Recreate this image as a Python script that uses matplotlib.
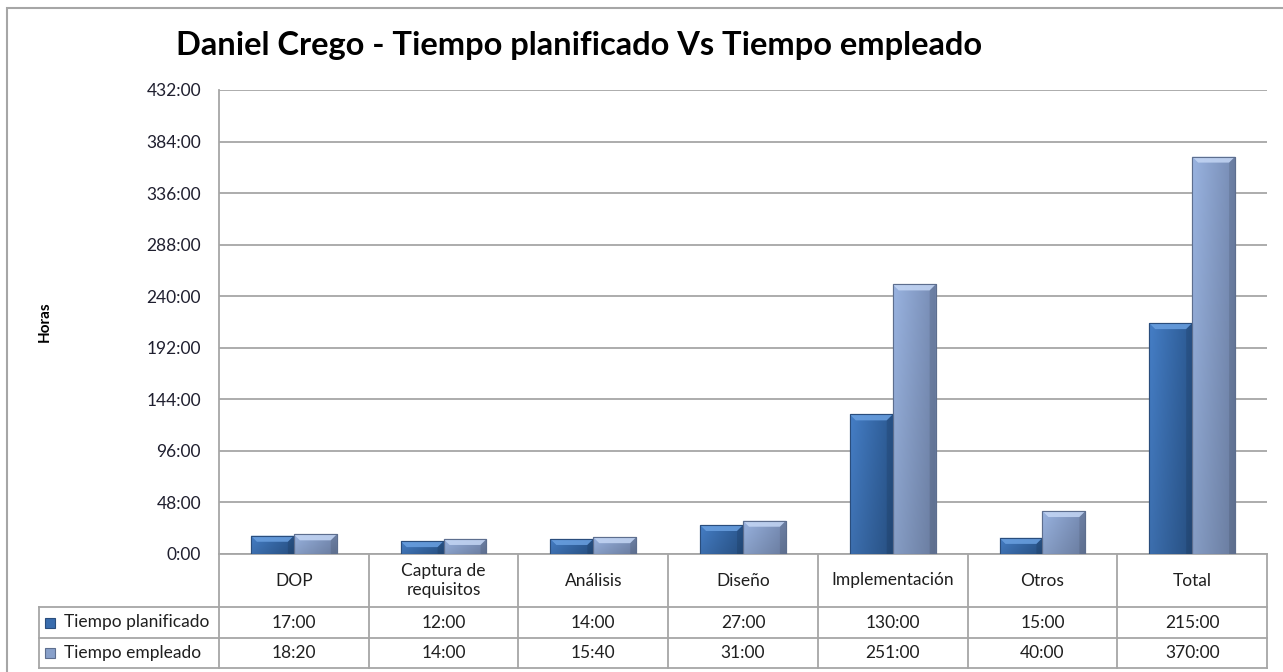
import numpy as np
import matplotlib.pyplot as plt
from matplotlib.patches import Rectangle, Polygon
from matplotlib.lines import Line2D
from matplotlib.transforms import blended_transform_factory

plt.rcParams['font.family'] = ['Lato', 'DejaVu Sans']

categorias = ['DOP', 'Captura de\nrequisitos', 'Análisis', 'Diseño',
              'Implementación', 'Otros', 'Total']
series = ['Tiempo planificado', 'Tiempo empleado']
planificado = ['17:00', '12:00', '14:00', '27:00', '130:00', '15:00', '215:00']
empleado = ['18:20', '14:00', '15:40', '31:00', '251:00', '40:00', '370:00']
ticks_y = np.arange(0, 433, 48)


def horas(s):
    h, m = s.split(':')
    return int(h) + int(m) / 60


W, H = 1283, 672
fig = plt.figure(figsize=(W / 100, H / 100), dpi=100)


def fy(py):
    return 1 - py / H


ax = fig.add_axes([219 / W, fy(554), (1267 - 219) / W, (554 - 90) / H])

# colores: (izquierda, derecha, bisel superior, borde)
estilos = [
    (np.array([0x45, 0x7e, 0xc6]) / 255, np.array([0x2c, 0x5a, 0x93]) / 255, '#6aa0e0', '#2a4d7c'),
    (np.array([0x99, 0xb3, 0xe0]) / 255, np.array([0x77, 0x8c, 0xb4]) / 255, '#c4d6f4', '#5d6e8e'),
]

x = np.arange(len(categorias))
w = 43 / 150
grid_h = (554 - 90) / 432  # px por hora
for k, datos in enumerate([planificado, empleado]):
    vals = [horas(v) for v in datos]
    izq, der, bisel, borde = estilos[k]
    bars = ax.bar(x + (k - 0.5) * w, vals, width=w, color=der, edgecolor=borde,
                  linewidth=0.8, zorder=3)
    for b in bars:
        x0, bw, bh = b.get_x(), b.get_width(), b.get_height()
        u = np.linspace(0, 1, 40)[None, :, None]
        v = np.linspace(1, 0, 60)[:, None, None]
        img = izq * (1 - u) + der * u
        img = img * (0.88 + 0.12 * v)
        im = ax.imshow(np.clip(img, 0, 1), extent=[x0, x0 + bw, 0, bh],
                       aspect='auto', zorder=3.1, interpolation='bilinear')
        im.set_clip_path(b)
        by = 6 / grid_h
        bx = 6 / 150
        ax.add_patch(Polygon([(x0, bh), (x0 + bw, bh), (x0 + bw - bx, bh - by),
                              (x0 + bx, bh - by)], closed=True, facecolor=bisel,
                             edgecolor='none', alpha=0.85, zorder=3.2))
        ax.add_patch(Polygon([(x0 + bw, 0), (x0 + bw, bh), (x0 + bw - bx, bh - by),
                              (x0 + bw - bx, 0)], closed=True, facecolor='black',
                             edgecolor='none', alpha=0.10, zorder=3.2))
        ax.add_patch(Rectangle((x0, 0), bw, bh, facecolor='none', edgecolor=borde,
                               linewidth=0.8, zorder=3.3))

ax.set_xlim(-0.5, len(categorias) - 0.5)
ax.set_ylim(0, 432)
ax.set_yticks(ticks_y)
ax.set_yticklabels([f'{t}:00' for t in ticks_y], fontsize=12.5, color='#1f1f2f')
ax.tick_params(axis='y', length=0, pad=13)
ax.set_xticks([])
ax.yaxis.grid(True, color='#a6a6a6', linewidth=1.3)
ax.set_axisbelow(True)
for s in ['top', 'right']:
    ax.spines[s].set_visible(False)
for s in ['left', 'bottom']:
    ax.spines[s].set_color('#a6a6a6')
    ax.spines[s].set_linewidth(1.3)

# tabla de datos bajo el eje
tr = blended_transform_factory(ax.transData, fig.transFigure)
gris = '#a6a6a6'
x_leg = -0.5 - (219 - 39) / 150
x_fin = len(categorias) - 0.5
for xb in np.arange(-0.5, x_fin + 0.01, 1):
    ax.add_line(Line2D([xb, xb], [fy(554), fy(668)], transform=tr, color=gris,
                       lw=1.3, clip_on=False))
for py in [607, 638, 668]:
    ax.add_line(Line2D([x_leg, x_fin], [fy(py), fy(py)], transform=tr, color=gris,
                       lw=1.3, clip_on=False))
ax.add_line(Line2D([x_leg, x_leg], [fy(607), fy(668)], transform=tr, color=gris,
                   lw=1.3, clip_on=False))

for i, c in enumerate(categorias):
    ax.text(i, fy(580.5), c, transform=tr, ha='center', va='center', fontsize=12.5,
            color='#1f1f1f', linespacing=1.2)
for k, (nombre, datos, py) in enumerate(zip(series, [planificado, empleado], [622.5, 653])):
    izq, der, bisel, borde = estilos[k]
    ax.add_patch(Rectangle((x_leg + 6 / 150, fy(py + 5)), 10 / 150, 10 / H,
                           transform=tr, facecolor=(izq + der) / 2, edgecolor=borde,
                           linewidth=0.8, clip_on=False))
    ax.text(-0.5 - (219 - 64) / 150, fy(py), nombre, transform=tr, ha='left',
            va='center', fontsize=12.5, color='#1f1f1f')
    for i, v in enumerate(datos):
        ax.text(i, fy(py), v, transform=tr, ha='center', va='center', fontsize=12.5,
                color='#1f1f1f')

fig.text(45 / W, fy(322), 'Horas', rotation=90, ha='center', va='center',
         fontsize=11, fontweight='bold')
fig.text(579 / W, fy(46), 'Daniel Crego - Tiempo planificado Vs Tiempo empleado',
         ha='center', va='center', fontsize=23.5, fontweight='bold')

fig.patches.append(Rectangle((7 / W, -0.1), 2, 1.1 - 8 / H, transform=fig.transFigure,
                             facecolor='none', edgecolor='#a6a6a6', linewidth=1.5))

fig.savefig('out.png', dpi=100)
